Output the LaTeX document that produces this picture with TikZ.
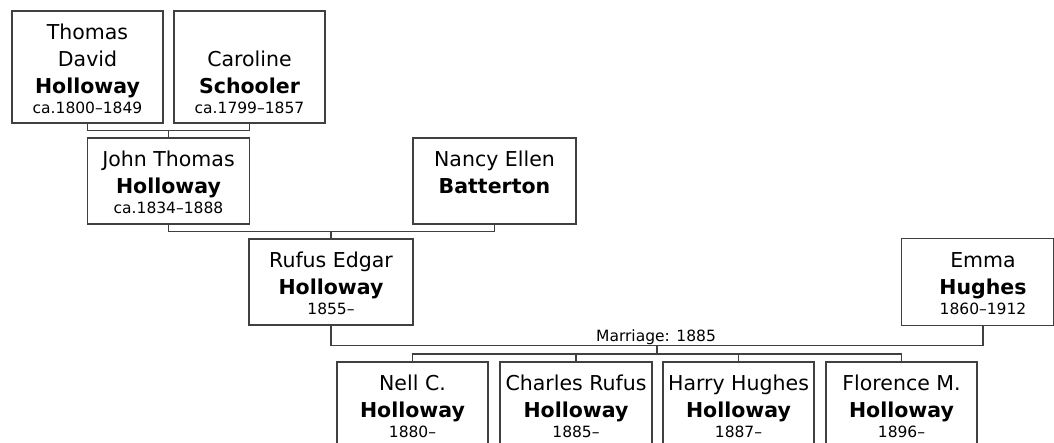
\documentclass[tikz,border=0pt]{standalone}
\usepackage{fontspec}
\setmainfont{DejaVu Sans}
\newcommand\nmfont{\fontsize{20.5}{27}\selectfont}
\newcommand\dtfont{\fontsize{15.5}{19}\selectfont}
\newcommand\topstrut{\rule{0pt}{22pt}}
\newcommand\botstrut{\rule[-4pt]{0pt}{4pt}}
\newcommand\dline[1]{\\[-7pt]{\dtfont #1}\botstrut}
\definecolor{lc}{RGB}{64,64,64}
\begin{document}
\begin{tikzpicture}[x=1pt,y=-1pt,
  person/.style={draw=lc, line width=1.1pt, inner sep=0pt, align=center,
    font=\nmfont, text=black, minimum height=86pt},
  link/.style={draw=lc, line width=1.1pt}]
\useasboundingbox (0,0) rectangle (1054,442);
% row 1
\node[person, minimum width=151pt, minimum height=112pt] (thomas) at (87.5,67)
  {\topstrut Thomas\\David\\\textbf{Holloway}\dline{ca.1800–1849}};
\node[person, minimum width=151pt, minimum height=112pt] (caroline) at (249.5,67)
  {\topstrut\\Caroline\\\textbf{Schooler}\dline{ca.1799–1857}};
% row 2
\node[person, minimum width=162pt] (john) at (168.5,181)
  {\topstrut John Thomas\\\textbf{Holloway}\dline{ca.1834–1888}};
\node[person, minimum width=163pt] (nancy) at (494.5,181)
  {\topstrut Nancy Ellen\\\textbf{Batterton}\dline{}};
% row 3
\node[person, minimum width=164pt] (rufus) at (331,282)
  {\topstrut Rufus Edgar\\\textbf{Holloway}\dline{1855–}};
\node[person, draw=none, minimum width=162pt] (emma) at (983,282)
  {\topstrut Emma\\\textbf{Hughes}\dline{1860–1912}};
\draw[link] (emma.north west) rectangle ([xshift=-11pt]emma.south east);
% children
\node[person, minimum width=151pt, minimum height=85pt] (nell) at (412.5,404.5)
  {\topstrut Nell C.\\\textbf{Holloway}\dline{1880–}};
\node[person, minimum width=152pt, minimum height=85pt] (charles) at (576,404.5)
  {\topstrut Charles Rufus\\\textbf{Holloway}\dline{1885–}};
\node[person, minimum width=151pt, minimum height=85pt] (harry) at (738.5,404.5)
  {\topstrut Harry Hughes\\\textbf{Holloway}\dline{1887–}};
\node[person, minimum width=151pt, minimum height=85pt] (florence) at (901.5,404.5)
  {\topstrut Florence M.\\\textbf{Holloway}\dline{1896–}};
% connectors
\coordinate (j1) at (168.5,130.5);
\draw[link] (thomas.south) |- (j1) -| (caroline.south);
\draw[link] (j1) -- (john.north);
\coordinate (j2) at (331,231.5);
\draw[link] (john.south) |- (j2) -| (nancy.south);
\draw[link] (j2) -- (rufus.north);
\coordinate (m) at (657,345.5);
\draw[link] (rufus.south) |- (m) -| (emma.south);
\node[font=\dtfont, anchor=base, inner sep=0pt] (mlabel) at (656,341) {Marriage: 1885};
\coordinate (c) at (657,354);
\draw[link] (m) -- (c);
\draw[link] (nell.north) |- (c) -| (florence.north);
\draw[link] (charles.north) -- (charles.north |- c);
\draw[link] (harry.north) -- (harry.north |- c);
\end{tikzpicture}
\end{document}
